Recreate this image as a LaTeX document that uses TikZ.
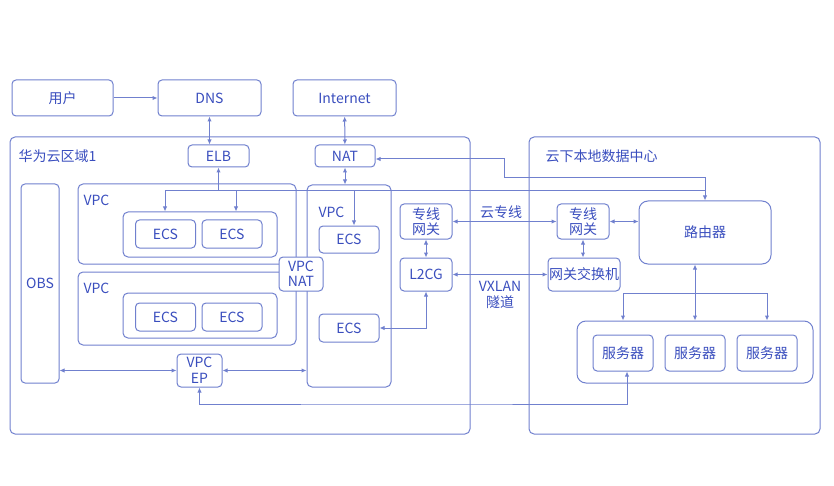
\documentclass[tikz,border=0pt]{standalone}
\usepackage{fontspec}
\setmainfont{Noto Sans CJK SC}
\usetikzlibrary{arrows.meta}
\definecolor{linec}{RGB}{112,128,206}
\definecolor{textc}{RGB}{58,78,190}
\tikzset{
  box/.style={draw=linec, line width=1pt, rounded corners=4pt, fill=white, text=textc,
    inner sep=0pt, align=center, font=\fontsize{14}{15.5}\selectfont},
  area/.style={draw=linec, line width=1pt, rounded corners=5pt, inner sep=0pt},
  lbl/.style={text=textc, inner sep=0pt, align=center, font=\fontsize{14}{15.5}\selectfont},
}
\begin{document}
\begin{tikzpicture}[x=1pt,y=-1pt,>={Latex[length=5pt,width=4.5pt]},color=linec,line width=1pt]
\useasboundingbox (0,0) rectangle (834,486);
\pgfmathsetmacro{\hs}{28}
\pgfmathsetmacro{\ws}{60}
  \node[area, minimum width=460pt, minimum height=297pt] (reg1) at (240,285.5) {};
  \node[area, minimum width=291pt, minimum height=297pt] (reg2) at (674.5,285.5) {};
  \node[lbl, anchor=west] (reg1lbl) at (18,156) {华为云区域1};
  \node[lbl, anchor=west] (reg2lbl) at (545,156) {云下本地数据中心};
  \node[box, minimum width=101pt, minimum height=36pt] (user) at (62.5,98) {用户};
  \node[box, minimum width=103pt, minimum height=36pt] (dns) at (209.5,98) {DNS};
  \node[box, minimum width=103pt, minimum height=36pt] (inet) at (344.5,98) {Internet};
  \node[box, minimum width=61pt, minimum height=22pt] (elb) at (218.5,156) {ELB};
  \node[box, minimum width=60pt, minimum height=22pt] (nat) at (345,156) {NAT};
  \node[box, minimum width=38pt, minimum height=199pt] (obs) at (40,283.5) {OBS};
  \node[area, minimum width=218pt, minimum height=80pt] (vpca) at (187,224) {};
  \node[lbl, anchor=west] (vpcalbl) at (83,200) {VPC};
  \node[area, minimum width=154pt, minimum height=45pt] (grpa) at (200,234.5) {};
  \node[box, minimum width=\ws pt, minimum height=\hs pt] (ecsa1) at (165.5,234) {ECS};
  \node[box, minimum width=\ws pt, minimum height=\hs pt] (ecsa2) at (232,234) {ECS};
  \node[area, minimum width=218pt, minimum height=73pt] (vpcb) at (187,308.5) {};
  \node[lbl, anchor=west] (vpcblbl) at (83,288) {VPC};
  \node[area, minimum width=154pt, minimum height=45pt] (grpb) at (200,315.5) {};
  \node[box, minimum width=\ws pt, minimum height=\hs pt] (ecsb1) at (165.5,317) {ECS};
  \node[box, minimum width=\ws pt, minimum height=\hs pt] (ecsb2) at (232,317) {ECS};
  \node[area, minimum width=84pt, minimum height=202pt] (vpcc) at (349,286) {};
  \node[lbl, anchor=west] (vpcclbl) at (318,212) {VPC};
  \node[box, minimum width=\ws pt, minimum height=27pt] (ecsc1) at (349,239.5) {ECS};
  \node[box, minimum width=\ws pt, minimum height=\hs pt] (ecsc2) at (349,328) {ECS};
  \node[box, minimum width=44pt, minimum height=34pt] (vpcnat) at (301,274) {VPC\\NAT};
  \node[box, minimum width=45pt, minimum height=33pt] (vpcep) at (199.5,370.5) {VPC\\EP};
  \node[box, minimum width=52pt, minimum height=35pt] (dcgw1) at (426,221.5) {专线\\网关};
  \node[box, minimum width=52pt, minimum height=33pt] (l2cg) at (426,274.5) {L2CG};
  \node[box, minimum width=52pt, minimum height=35pt] (dcgw2) at (583,221.5) {专线\\网关};
  \node[box, minimum width=72pt, minimum height=33pt] (gwsw) at (584,274.5) {网关交换机};
  \node[box, rounded corners=9pt, minimum width=132pt, minimum height=63pt] (router) at (705,232.5) {路由器};
  \node[area, rounded corners=9pt, minimum width=236pt, minimum height=62pt] (grps) at (695,352) {};
  \node[box, minimum width=\ws pt, minimum height=36pt] (srv1) at (623,353) {服务器};
  \node[box, minimum width=\ws pt, minimum height=36pt] (srv2) at (695,353) {服务器};
  \node[box, minimum width=\ws pt, minimum height=36pt] (srv3) at (767,353) {服务器};
  \node[lbl] (zxlbl) at (501,212) {云专线};
  \node[lbl] (vxlbl) at (500,295) {VXLAN\\隧道};
  \coordinate (bus) at (0,191);
  \coordinate (b1) at (165,191);
  \coordinate (b2) at (236,191);
  \coordinate (b3) at (354,191);
  \coordinate (srvbus) at (0,293);
  \coordinate (k1) at (504,178);
  \coordinate (k2) at (400,404);
  \draw[->] (user) -- (dns);
  \draw[<->] (dns) -- (dns |- elb.north);
  \draw[<->] (inet) -- (nat);
  \draw[<-] (elb) -- (elb |- bus);
  \draw (b1) -- (router.north |- bus);
  \draw[->] (b1) -- (b1 |- grpa.north);
  \draw[->] (b2) -- (b2 |- grpa.north);
  \draw[->] (b3) -- (b3 |- ecsc1.north);
  \draw[<->] (nat) -- (nat |- vpcc.north);
  \draw[<->] ([yshift=-3pt]nat.east) -| (k1) -| (router.north);
  \draw[<->] (dcgw1) -- (dcgw2);
  \draw[<->] (dcgw2.east) -- (dcgw2.east -| router.west);
  \draw[<->] (dcgw1) -- (l2cg);
  \draw[<->] (dcgw2) -- (dcgw2 |- gwsw.north);
  \draw[<->] (l2cg) -- (gwsw);
  \draw[<->] (l2cg) |- (ecsc2);
  \draw[<->] (router.south -| grps.north) -- (grps.north);
  \draw (srv1 |- srvbus) -- (srv3 |- srvbus);
  \draw[->] (srv1 |- srvbus) -- (srv1 |- grps.north);
  \draw[->] (srv3 |- srvbus) -- (srv3 |- grps.north);
  \draw[<->] (vpcep) |- (k2) -| ([xshift=4pt]srv1.south);
  \draw[<->] (obs.east |- vpcep.west) -- (vpcep.west);
  \draw[<->] (vpcep) -- (vpcep -| vpcc.west);
\end{tikzpicture}
\end{document}
